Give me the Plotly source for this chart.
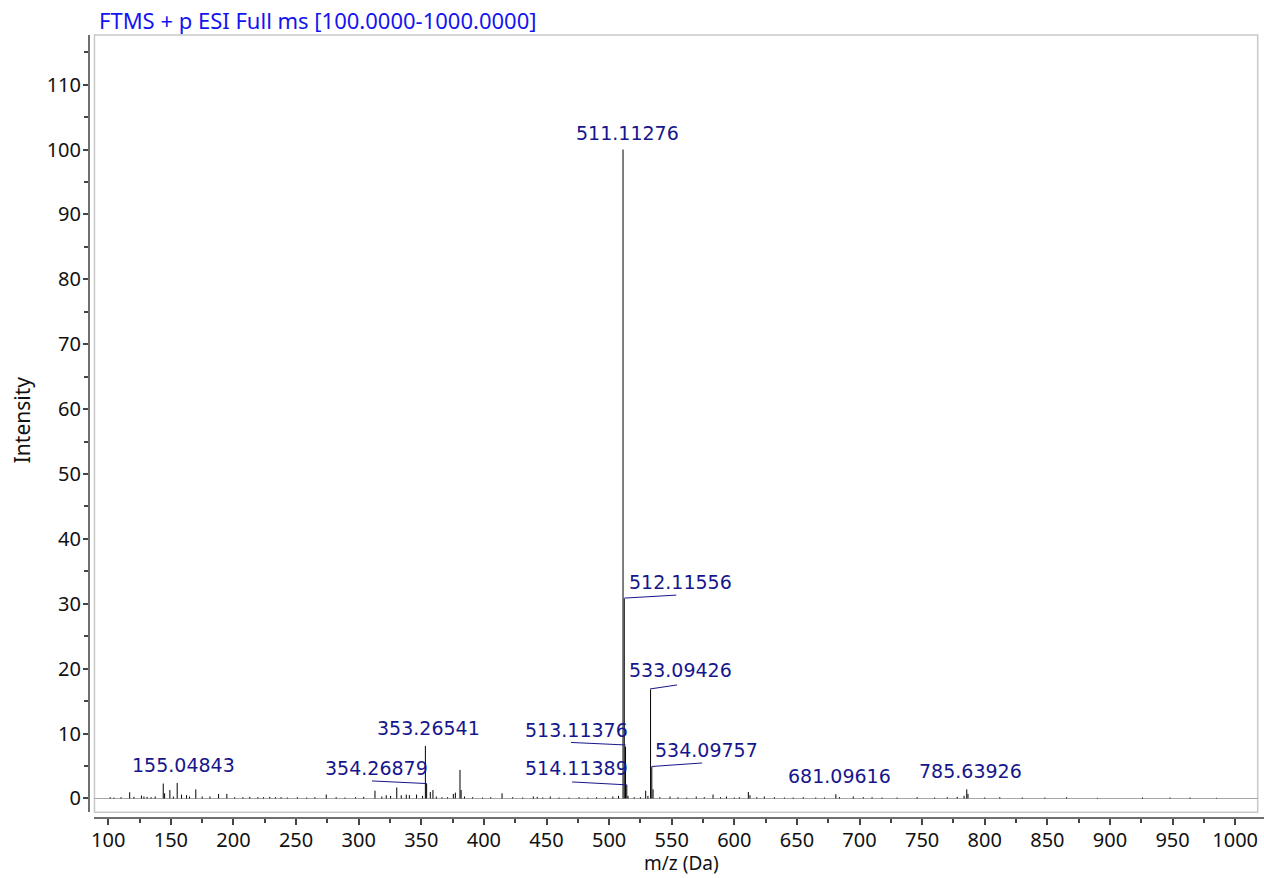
import plotly.graph_objects as go

# ---- data ----
peak_mz = [101.5, 104.5, 110.2, 117.1, 120.5, 126.5, 128.5, 131.0, 134.2, 137.5,
           143.9, 145.0, 149.2, 152.0, 155.04843, 158.5, 162.5, 164.9, 169.9, 175.0,
           181.2, 188.1, 194.7, 201.0, 207.5, 213.0, 219.5, 224.0, 229.0, 233.5,
           238.0, 243.0, 251.0, 258.5, 265.0, 274.1, 282.0, 289.0, 297.5, 304.0,
           313.0, 318.5, 322.0, 325.5, 330.4, 334.0, 338.0, 340.5, 346.2, 351.0,
           353.26541, 354.26879, 357.2, 359.3, 362.0, 366.5, 371.0, 375.6, 377.2, 380.9,
           381.8, 384.5, 391.0, 399.0, 405.5, 414.5, 423.0, 431.0, 439.5, 442.6,
           447.0, 453.0, 460.0, 468.0, 476.0, 483.0, 490.0, 497.0, 503.0, 507.5,
           511.11276, 512.11556, 513.11376, 514.11389, 515.1, 520.0, 525.0, 529.2, 531.0, 533.09426,
           534.09757, 535.1, 540.5, 548.6, 555.0, 562.0, 569.6, 576.0, 583.0, 589.0,
           593.7, 600.0, 604.0, 611.2, 612.5, 618.0, 624.0, 632.0, 640.0, 647.0,
           655.0, 665.0, 672.0, 681.09616, 684.0, 695.0, 703.0, 710.0, 718.0, 730.0,
           746.0, 760.0, 770.0, 778.0, 783.5, 785.63926, 786.6, 800.0, 812.0, 830.0,
           848.0, 865.4, 890.0, 926.0, 948.0, 964.0, 985.0]
peak_int = [0.2, 0.15, 0.2, 0.95, 0.25, 0.45, 0.3, 0.25, 0.2, 0.3,
            2.3, 0.8, 1.3, 0.3, 2.4, 0.6, 0.5, 0.3, 1.4, 0.3,
            0.3, 0.7, 0.7, 0.2, 0.2, 0.25, 0.2, 0.2, 0.25, 0.2,
            0.2, 0.15, 0.2, 0.15, 0.2, 0.6, 0.2, 0.15, 0.2, 0.25,
            1.2, 0.3, 0.5, 0.4, 1.7, 0.5, 0.6, 0.5, 0.6, 0.4,
            8.1, 2.3, 1.0, 1.3, 0.3, 0.2, 0.2, 0.7, 0.9, 4.4,
            1.3, 0.3, 0.2, 0.15, 0.2, 0.8, 0.2, 0.15, 0.3, 0.25,
            0.15, 0.3, 0.15, 0.15, 0.2, 0.15, 0.2, 0.2, 0.3, 0.4,
            100.0, 30.8, 8.0, 2.1, 0.4, 0.2, 0.2, 1.2, 0.4, 16.8,
            4.9, 1.4, 0.2, 0.3, 0.2, 0.15, 0.3, 0.2, 0.6, 0.2,
            0.3, 0.15, 0.2, 1.0, 0.5, 0.2, 0.3, 0.2, 0.15, 0.15,
            0.2, 0.15, 0.15, 0.65, 0.2, 0.3, 0.2, 0.2, 0.15, 0.15,
            0.2, 0.15, 0.2, 0.25, 0.4, 1.4, 0.7, 0.15, 0.2, 0.15,
            0.15, 0.2, 0.1, 0.15, 0.15, 0.15, 0.1]

label_mz = [511.11276, 512.11556, 513.11376, 514.11389, 533.09426, 534.09757,
            353.26541, 354.26879, 155.04843, 681.09616, 785.63926]
label_text = ["511.11276", "512.11556", "513.11376", "514.11389", "533.09426", "534.09757",
              "353.26541", "354.26879", "155.04843", "681.09616", "785.63926"]

x_ticks = list(range(100, 1001, 50))
y_ticks = list(range(0, 111, 10))

title_text = "FTMS + p ESI Full ms [100.0000-1000.0000]"
x_title = "m/z (Da)"
y_title = "Intensity"

# ---- styling / layout helpers (pixel offsets relative to the peak top) ----
label_shift = {   # (xshift, yshift) of text centre
    "511.11276": (4, 17), "512.11556": (56, 16.5), "513.11376": (-49.5, 16.6),
    "514.11389": (-50.7, 17), "533.09426": (29.5, 19.5), "534.09757": (55, 16.7),
    "353.26541": (3.6, 18), "354.26879": (-49.7, 15.6), "155.04843": (6, 18),
    "681.09616": (4, 18), "785.63926": (4, 18),
}
leaders = {       # (x0, y0, x1, y1) pixels, y positive upward
    "512.11556": (0, 0.5, 52, 3.5), "513.11376": (-54.5, 4.1, 0, 1.6),
    "514.11389": (-54.7, 2.9, 0, 0), "533.09426": (-0.5, 0.5, 26.5, 4.5),
    "534.09757": (0, 0.2, 50.3, 3.7), "354.26879": (-54.7, 2.6, 0, 0),
}

LABEL_COLOR = "#16168c"
SANS = "Noto Sans, DejaVu Sans, sans-serif"
TICK_FONT = dict(family=SANS, size=20, color="#111111")
LABEL_FONT = dict(family="DejaVu Sans, sans-serif", size=19, color=LABEL_COLOR)

xs, ys = [], []
for m, v in zip(peak_mz, peak_int):
    xs += [m, m, None]
    ys += [0, v, None]

fig = go.Figure(go.Scatter(x=xs, y=ys, mode="lines",
                           line=dict(color="#000000", width=1), hoverinfo="skip",
                           showlegend=False))

intensity_of = dict(zip(peak_mz, peak_int))
annotations = []
shapes = []
for m, t in zip(label_mz, label_text):
    v = intensity_of[m]
    dx, dy = label_shift[t]
    annotations.append(dict(x=m, y=v, xref="x", yref="y", text=t, showarrow=False,
                            xanchor="center", yanchor="middle", xshift=dx, yshift=dy,
                            font=LABEL_FONT))
    if t in leaders:
        x0, y0, x1, y1 = leaders[t]
        shapes.append(dict(type="line", xref="x", yref="y", xsizemode="pixel",
                           ysizemode="pixel", xanchor=m, yanchor=v,
                           x0=x0, y0=y0, x1=x1, y1=y1,
                           line=dict(color=LABEL_COLOR, width=1)))

# plot frame
shapes.append(dict(type="rect", xref="x domain", yref="y domain", x0=0, x1=1, y0=0, y1=1,
                   line=dict(color="#c8c8c8", width=1.5), layer="below"))
# extension of the x axis line to the right edge
shapes.append(dict(type="line", xref="paper", yref="paper", x0=0.99, x1=1.0, y0=0, y1=0,
                   line=dict(color="#6e6e6e", width=2)))

annotations.append(dict(xref="paper", yref="paper", x=0.0068, y=1.019, text=title_text,
                        showarrow=False, xanchor="left", yanchor="middle",
                        font=dict(family=SANS, size=22, color="#1414f0")))
annotations.append(dict(xref="paper", yref="paper", x=0.504, y=-0.0766, text=x_title,
                        showarrow=False, xanchor="center", yanchor="bottom",
                        font=dict(family=SANS, size=19, color="#111111")))
annotations.append(dict(xref="paper", yref="paper", x=-0.057, y=0.508, text=y_title,
                        showarrow=False, xanchor="center", yanchor="middle", textangle=-90,
                        font=dict(family=SANS, size=21, color="#111111")))

fig.update_layout(
    width=1264, height=878,
    margin=dict(l=89, r=0, t=35, b=60, pad=0),
    paper_bgcolor="white", plot_bgcolor="white",
    xaxis=dict(domain=[0.00468, 0.99464], range=[89.0, 1018.0], anchor="free", position=0,
               showline=True, linecolor="#6e6e6e", linewidth=2, showgrid=False,
               zeroline=False, ticks="outside", ticklen=6, tickwidth=1.5,
               tickcolor="#444444", tickvals=x_ticks, ticktext=[str(v) for v in x_ticks],
               tickfont=TICK_FONT, ticklabelstandoff=-2,
               minor=dict(dtick=25, tick0=100, ticks="outside", ticklen=4,
                          tickcolor="#444444", tickwidth=1.5, showgrid=False)),
    yaxis=dict(domain=[0.00728, 1.0], range=[-2.13, 117.65], anchor="free", position=0,
               showline=True, linecolor="#6e6e6e", linewidth=2, showgrid=False,
               zeroline=True, zerolinecolor="#a8a8a8", zerolinewidth=1,
               ticks="outside", ticklen=5, tickwidth=1.5, tickcolor="#444444",
               tickvals=y_ticks, ticktext=[str(v) for v in y_ticks], tickfont=TICK_FONT,
               ticklabelstandoff=-2,
               minor=dict(dtick=5, tick0=0, ticks="outside", ticklen=4,
                          tickcolor="#444444", tickwidth=1.5, showgrid=False)),
    annotations=annotations,
    shapes=shapes,
)

fig.write_html("out.html", config={"displayModeBar": False},
               post_script="document.body.style.margin='0px';document.body.style.padding='0px';")
